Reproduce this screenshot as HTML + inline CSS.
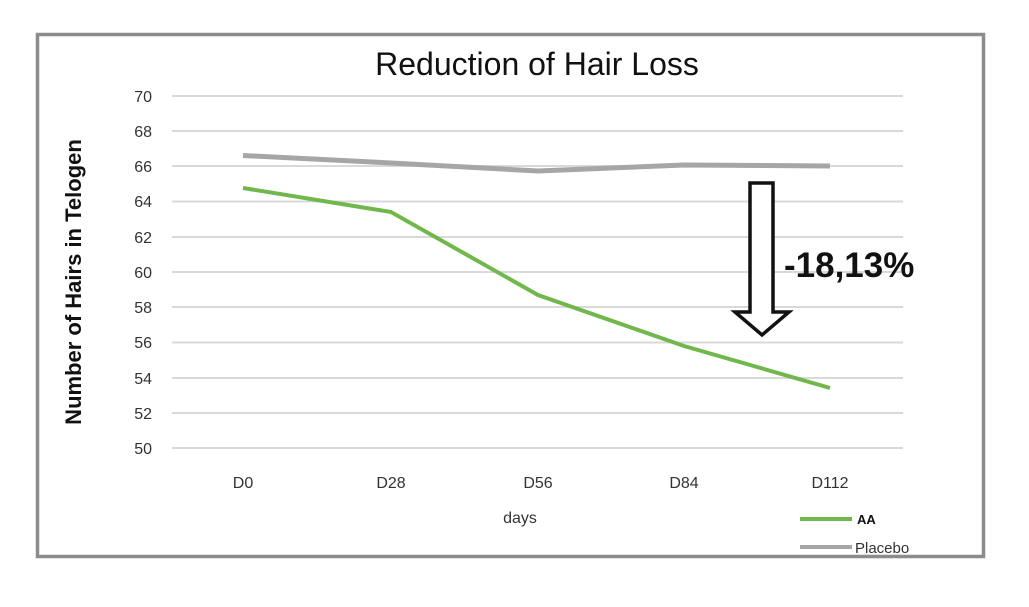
<!DOCTYPE html><html><head><style>body{margin:0;background:#fff}</style></head><body>
<svg width="1029" height="602" xmlns="http://www.w3.org/2000/svg" font-family="Liberation Sans, sans-serif">
<rect x="0" y="0" width="1029" height="602" fill="#fff"/>
<rect x="37.5" y="34.5" width="946" height="522" fill="none" stroke="#8c8c8c" stroke-width="3.5"/>
<text x="537" y="75" font-size="32" text-anchor="middle" fill="#111">Reduction of Hair Loss</text>
<g stroke="#d9d9d9" stroke-width="2">
<line x1="172" x2="903" y1="96" y2="96"/><line x1="172" x2="903" y1="131" y2="131"/><line x1="172" x2="903" y1="166" y2="166"/><line x1="172" x2="903" y1="201.5" y2="201.5"/><line x1="172" x2="903" y1="237" y2="237"/><line x1="172" x2="903" y1="272" y2="272"/><line x1="172" x2="903" y1="307" y2="307"/><line x1="172" x2="903" y1="342.5" y2="342.5"/><line x1="172" x2="903" y1="378" y2="378"/><line x1="172" x2="903" y1="413" y2="413"/><line x1="172" x2="903" y1="448" y2="448"/>
</g>
<g font-size="16" fill="#333" text-anchor="end">
<text x="152" y="102">70</text><text x="152" y="137">68</text><text x="152" y="172">66</text><text x="152" y="207">64</text><text x="152" y="243">62</text><text x="152" y="278">60</text><text x="152" y="313">58</text><text x="152" y="348">56</text><text x="152" y="384">54</text><text x="152" y="419">52</text><text x="152" y="454">50</text>
</g>
<g font-size="16" fill="#333" text-anchor="middle">
<text x="243" y="488">D0</text><text x="391" y="488">D28</text><text x="538" y="488">D56</text><text x="684" y="488">D84</text><text x="830" y="488">D112</text>
<text x="520" y="523">days</text>
</g>
<text transform="translate(81,282) rotate(-90)" font-size="22" font-weight="bold" text-anchor="middle" fill="#111">Number of Hairs in Telogen</text>
<polyline points="243,155.5 391,163 538,171 684,165 830,166" fill="none" stroke="#a6a6a6" stroke-width="5"/>
<polyline points="243,188 391,212 538,295 684,346 830,388" fill="none" stroke="#70b84c" stroke-width="4"/>
<polygon points="750,183 773,183 773,312 789,312 762,335 735,312 750,312" fill="#fff" stroke="#111" stroke-width="3.5"/>
<text x="784" y="277" font-size="35" font-weight="bold" fill="#111">-18,13%</text>
<line x1="800" x2="852" y1="519" y2="519" stroke="#70b84c" stroke-width="4"/>
<text x="857" y="524" font-size="13" font-weight="bold" fill="#111">AA</text>
<line x1="800" x2="852" y1="547" y2="547" stroke="#a6a6a6" stroke-width="4"/>
<text x="855" y="553" font-size="15" fill="#333">Placebo</text>
</svg>
</body></html>
